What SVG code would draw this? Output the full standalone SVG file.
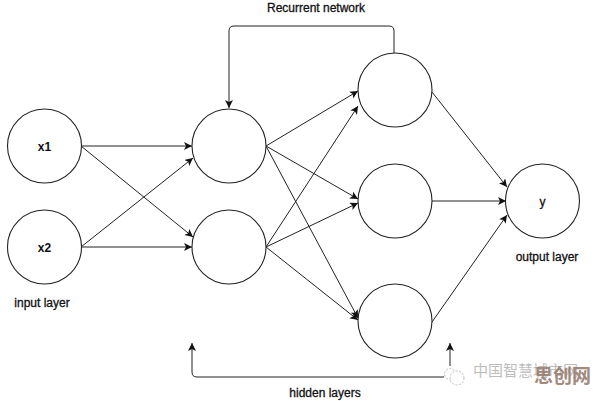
<svg xmlns="http://www.w3.org/2000/svg" width="596" height="401" viewBox="0 0 596 401">
<defs>
<marker id="ah" markerWidth="10" markerHeight="10" refX="8" refY="4" orient="auto" markerUnits="userSpaceOnUse">
<path d="M0,0 L8,4 L0,8 L2,4 Z" fill="#111"/>
</marker>
<style>
.node{fill:#fff;stroke:#222;stroke-width:1.1}
.edge{fill:none;stroke:#222;stroke-width:1;marker-end:url(#ah)}
.line{fill:none;stroke:#222;stroke-width:1}
.lbl{font-family:"Liberation Sans",Arial,sans-serif;font-size:12px;fill:#111;stroke:#111;stroke-width:0.3;text-anchor:middle;dominant-baseline:central}
.nl{font-family:"Liberation Sans",Arial,sans-serif;font-size:12px;font-weight:bold;fill:#111;text-anchor:middle;dominant-baseline:central}
</style>
</defs>
<rect width="596" height="401" fill="#fff"/>
<g id="connectors">
<path class="edge" d="M81,146 L192,146"/>
<path class="edge" d="M81,146 L193,237"/>
<path class="edge" d="M81,247 L193,158"/>
<path class="edge" d="M81,247 L192,247"/>
<path class="edge" d="M266,146 L358,91"/>
<path class="edge" d="M266,146 L358,199"/>
<path class="edge" d="M266,146 L358,318"/>
<path class="edge" d="M266,247 L358,106"/>
<path class="edge" d="M266,247 L358,203"/>
<path class="edge" d="M266,247 L358,320"/>
<path class="edge" d="M432,92 L507,187"/>
<path class="edge" d="M432,201 L506,201"/>
<path class="edge" d="M432,322 L507,215"/>
<path class="edge" d="M394,53 V31 Q394,26 389,26 H234 Q229,26 229,31 V108"/>
<path class="edge" d="M450,366 V343"/>
<path class="edge" d="M444,377 H197 Q192,377 192,372 V343"/>
</g>
<g id="x1"><circle class="node" cx="44.5" cy="146" r="37"/><text class="nl" x="44.5" y="147">x1</text></g>
<g id="x2"><circle class="node" cx="44.5" cy="247" r="37"/><text class="nl" x="44.5" y="248">x2</text></g>
<g id="h1a"><circle class="node" cx="229" cy="146" r="37"/></g>
<g id="h1b"><circle class="node" cx="229" cy="247" r="37"/></g>
<g id="h2a"><circle class="node" cx="395" cy="90" r="37"/></g>
<g id="h2b"><circle class="node" cx="395" cy="201" r="37"/></g>
<g id="h2c"><circle class="node" cx="395" cy="321" r="37"/></g>
<g id="y"><circle class="node" cx="542.5" cy="201" r="37"/><text class="lbl" x="542.5" y="202">y</text></g>
<g id="labels">
<text class="lbl" x="316" y="8">Recurrent network</text>
<text class="lbl" x="42" y="303">input layer</text>
<text class="lbl" x="547" y="257">output layer</text>
<text class="lbl" x="325" y="393">hidden layers</text>
</g>
<g id="watermark">
<circle cx="450" cy="374" r="5.5" fill="#fff" stroke="#bbb" stroke-width="1" stroke-dasharray="2,1.5"/>
<circle cx="457" cy="378" r="7" fill="#fff" stroke="#bbb" stroke-width="1" stroke-dasharray="2,1.5"/>
<text x="473" y="376" font-family="'Noto Sans CJK SC',sans-serif" font-size="15" fill="#bdbdbd">中国智慧城市网</text>
<text x="534" y="383" font-family="'Noto Sans CJK SC',sans-serif" font-size="19" font-weight="bold" fill="#957a6b" fill-opacity="0.9">思创网</text>
</g>
</svg>
